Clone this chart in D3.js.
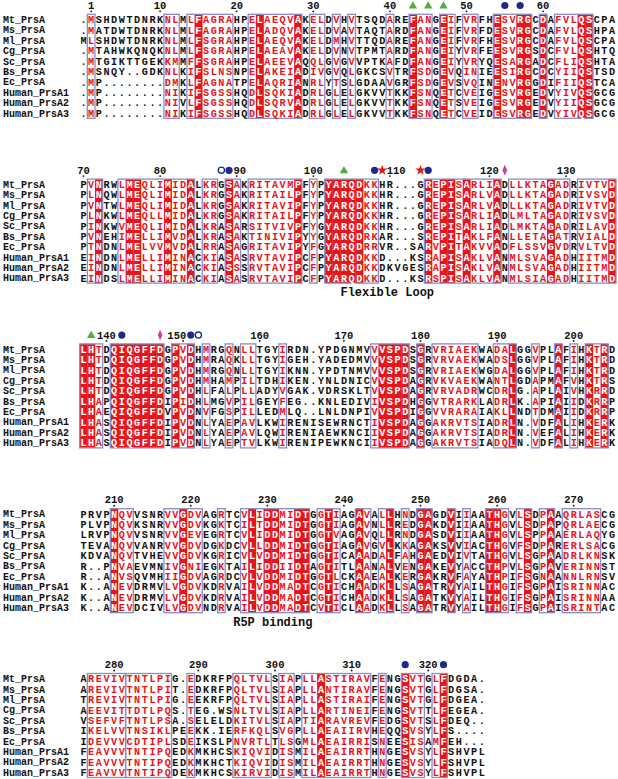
<!DOCTYPE html>
<html><head><meta charset="utf-8">
<script src="https://cdn.jsdelivr.net/npm/d3@7"></script>
<style>body{margin:0;background:#fff}svg{display:block}</style>
</head><body><svg id="chart" width="618" height="779"></svg>
<script>
// ---------------- data ----------------
const names = ["Mt_PrsA","Ms_PrsA","Ml_PrsA","Cg_PrsA","Sc_PrsA","Bs_PrsA","Ec_PrsA","Human_PrsA1","Human_PrsA2","Human_PrsA3"];

const sequences = [
  ".MSHDWTDNRKNLMLFAGRAHPELAEQVAKELDVHVTSQDAREFANGEIFVRFHESVRGCDAFVLQSCPA"+"PVNRWLMEQLIMIDALKRGSAKRITAVMPFYPYARQDKKHR...GREPISARLIADLLKTAGADRIVTVD"+"LHTDQIQGFFDGPVDHMRGQNLLTGYIRDN.YPDGNMVVVSPDSGRVRIAEKWADALGGVPLAFIHKTRD"+"PRVPNQVVSNRVVGDVAGRTCVLIDDMIDTGGTIAGAVALLHNDGAGDVIIAATHGVLSDPAAQRLASCG"+"AREVIVTNTLPIG.EDKRFPQLTVLSIAPLLASTIRAVFENGSVTGLFDGDA.",
  ".MATDWTDNRKNLMLFAGRAHPELADQVAKELDVAVTAQTARDFANGEIFVRFDESVRGCDAFVLQSHPA"+"PLNQWLMEQLIMIDALKRGSAKRITAILPFYPYARQDKKHR...GREPISARLVADLLKTAGADRIVSVD"+"LHTDQIQGFFDGPVDHMRAQKLLTGYIGEH.YADEDMVVVSPDSGRVRVAEKWADSLGGVPLAFIHKTRD"+"PLVPNQVKSNRVVGDVKGKTCILTDDMIDTGGTIAGAVNLLREDGAKDVIIAATHGVLSDPAPQRLAECG"+"AREVIVTNTLPIT.EDKRFPQLTVLSIAPLLANTIRAVFENGSVTGLFDGSA.",
  "MLSHDWTDNRKNLMLFSGRAHPELAEQVAKELDMHVTTQDAREFANGEIFVRFHESVRGCDAFVLQSCPA"+"PVNTWLMEQLIMIDALKRGSAKRITAVIPFYPYARQDKKHR...GREPISARLVADLLKTAGADRIVTVD"+"LHTDQIQGFFDGPVDHMRGQNLLTGYIKNN.YPDTNMVVVSPDSGRVRIAEKWGDALGGVPLAFIHKTRD"+"LRVPNQVVSNRVVGEVEGRTCVLIDDMIDTGGTVAGAVQLLRNDGASDVIIAATHGVLSPPAAERLAQYG"+"TREVIVTNTLPIG.EEKRFPQLTVLSIAPLLASTIRAIFENGSVTGLFDGEA.",
  ".MTAHWKQNQKNLMLFSGRAHPELAEAVAKELDVNVTPMTARDFANGEIYVRFEESVRGSDCFVLQSHTQ"+"PLNKWLMEQLLMIDALKRGSAKRITAILPFYPYARQDKKHR...GREPISARLIADLMLTAGADRIVSVD"+"LHTDQIQGFFDGPVDHMHAMPILTDHIKEN.YNLDNICVVSPDAGRVKVAEKWANTLGDAPMAFVHKTRS"+"TEVANQVVANRVVGDVDGKDCVLLDDMIDTGGTIAGAVGVLKKAGAKSVVIACTHGVFSDPARERLSACG"+"AEEVITTDTLPQS.TEG.WSNLTVLSIAPLLARTINEIFENGSVTTLFEGEA.",
  ".MTGIKTTGEKKMMFFSGRAHPELAEEVAQQLGVGVVPTKAFDFANGEIYVRYQESARGADCFLIQSHTA"+"PINKWVMEQLIMIDALKRASARSITVIVPFYGYARQDKKHR...GREPISARLIADLMKTAGADRILAVD"+"LHTDQIQGFFDGPVDHLFALPLLADYVGAK.VDRSKLTVVSPDAGRVRVADRWCDRLG.APLAIVHKRRD"+"KDVANQVTVHEVVGDVKGRICVLVDDMIDTGGTICAAADALFAHGAEDVIVTATHGVLSGPAADRLKNSK"+"VSEFVFTNTLPSA.SELELDKITVLSIAPTIARAVREVFEDGSVTSLFDEQ..",
  ".MSNQY..GDKNLKIFSLNSNPELAKEIADIVGVQLGKCSVTRFSDGEVQINIEESIRGCDCYIIQSTSD"+"PVNEHIMELLIMVDALKRASAKTINIVIPYYGYARQDRKAR...SREPITAKLFANLLETAGATRVIALD"+"LHAPQIQGFFDIPIDHLMGVPILGEYFEG..KNLEDIVIVSPDHGGVTRARKLADRLK.APIAIIDKRRP"+"R..PNVAEVMNIVGNIEGKTAILIDDIIDTAGTITLAANALVENGAKEVYACCTHPVLSGPAVERINNST"+"IKELVVTNSIKLPEEKK.IERFKQLSVGPLLAEAIIRVHEQQSVSYLFS....",
  ".MP........DMKLFAGNATPELAQRIANRLYTSLGDAAVGRFSDGEVSVQINENVRGGDIFIIQSTCA"+"PTNDNLMELVVMVDALRRASAGRITAVIPYFGYARQDRRVR..SARVPITAKVVADFLSSVGVDRVLTVD"+"LHAEQIQGFFDVPVDNVFGSPILLEDMLQ..LNLDNPIVVSPDIGGVVRARAIAKLLNDTDMAIIDKRRP"+"R..ANVSQVMHIIGDVAGRDCVLVDDMIDTGGTLCKAAEALKERGAKRVFAYATHPIFSGNAANNLRNSV"+"IDEVVVCDTIPLSDEIKSLPNVRTLTLSGMLAEAIRRISNEESISAMFEH...",
  ".MP........NIKIFSGSSHQDLSQKIADRLGLELGKVVTKKFSNQETCVEIGESVRGEDVYIVQSGCG"+"EINDNLMELLIMINACKIASASRVTAVIPCFPYARQDKKD...KSRAPISAKLVANMLSVAGADHIITMD"+"LHASQIQGFFDIPVDNLYAEPAVLKWIRENISEWRNCTIVSPDAGGAKRVTSIADRLN.VDFALIHKERK"+"K..ANEVDRMVLVGDVKDRVAILVDDMADTCGTICHAADKLLSAGATRVYAILTHGIFSGPAISRINNAC"+"FEAVVVTNTIPQEDKMKHCSKIQVIDISMILAEAIRRTHNGESVSYLFSHVPL",
  ".MP........NIVLFSGSSHQDLSQRVADRLGLELGKVVTKKFSNQETSVEIGESVRGEDVYIIQSGCG"+"EINDNLMELLIMINACKIASSSRVTAVIPCFPYARQDKKDKVGESRAPISAKLVANMLSVAGADHIITMD"+"LHASQIQGFFDIPVDNLYAEPAVLQWIRENIAEWKNCIIVSPDAGGAKRVTSIADRLN.VEFALIHKERK"+"K..ANEVDRMVLVGDVKDRVAILVDDMADTCGTICHAADKLLSAGATKVYAILTHGIFSGPAISRINNAA"+"FEAVVVTNTIPQEDKMKHCTKIQVIDISMILAEAIRRTHNGESVSYLFSHVPL",
  ".MP........NIKIFSGSSHQDLSQKIADRLGLELGKVVTKKFSNQETCVEIDESVRGEDVYIVQSGCG"+"EINDSLMELLIMINACKIASASRVTAVIPCFPYARQDKKD...KSRSPISAKLVANMLSIAGADHIITMD"+"LHASQIQGFFDIPVDNLYAEPTVLKWIRENIPEWKNCIIVSPDAGGAKRVTSIADQLN.VDFALIHKERK"+"K..ANEVDCIVLVGDVNDRVAILVDDMADTCVTICLAADKLLSAGATRVYAILTHGIFSGPAISRINTAC"+"FEAVVVTNTIPQDEKMKHCSKIRVIDISMILAEAIRRTHNGESVSYLFSHVPL"
];

// similarity frames (alignment column ranges, inclusive)
const simBoxes = [
  [1,1],[11,12],[14,19],[22,28],[30,31],[33,33],[35,35],[40,40],[43,45],[47,48],[50,51],[54,58],[60,60],[62,66],
  [71,72],[75,84],[86,87],[89,90],[92,98],[100,100],[102,108],[115,124],[126,133],[135,139],
  [140,142],[144,150],[152,154],[156,156],[159,159],[161,162],[166,166],[178,182],[184,184],[186,191],[194,196],[199,199],[202,202],[204,204],[206,208],
  [214,216],[221,225],[228,228],[231,239],[241,243],[246,247],[249,250],[252,252],[254,255],[258,258],[260,260],[263,265],[267,268],[270,271],[273,277],
  [281,285],[286,291],[294,294],[300,304],[306,307],[309,317],[319,319],[322,324],[326,327]
];

// residue markers (Mt_PrsA numbering)
const markerResidues = [43,45,47,55,57,88,89,104,108,109,111,112,122,138,142,147,151,152,317,322];
const markerTypes    = ["tri","tri","tri","dot","dot","ring","dot","tri","dot","star","star","dot","diamond","tri","dot","diamond","dot","ring","dot","dot"];

// region labels (anchored at Mt_PrsA residue)
const regionLabels = ["Flexible Loop","R5P binding"];
const regionResidues = [104, 226];

// ---------------- layout ----------------
const COLS = 70;
const x0 = 83.5, pitch = 7.66, rowH = 10.4, top0 = 19.5, blockStep = 164.8;
const RED = "#e4161c", FRAME = "#8b8bc6", BLUE = "#1c2a8a", GREEN = "#4caf3e", MAG = "#c8439c";
const seqFont = "bold 10.2px 'Liberation Mono', monospace";

const svg = d3.select("#chart");
const nCols = sequences[0].length;
const nBlocks = Math.ceil(nCols / COLS);

// numbering from reference sequence
const resNum = []; let rr = 0;
for (let c = 0; c < nCols; c++) { if (sequences[0][c] !== ".") { rr++; resNum[c] = rr; } else resNum[c] = null; }
const colOfRes = r => resNum.indexOf(r);

const isId = c => { const ch = sequences[0][c]; return ch !== "." && sequences.every(s => s[c] === ch); };
const inBox = new Array(nCols).fill(false);
simBoxes.forEach(([a,b]) => { for (let c = a; c <= b; c++) inBox[c] = true; });

const markers = markerResidues.map((r,i) => ({col: colOfRes(r), type: markerTypes[i]}));

for (let b = 0; b < nBlocks; b++) {
  const c0 = b * COLS, c1 = Math.min(nCols, c0 + COLS);
  const midY = top0 + b * blockStep;          // centre of first row
  const top = midY - rowH / 2;
  const x = d3.scaleLinear().domain([c0, c0 + COLS - 1]).range([x0, x0 + (COLS - 1) * pitch]);
  const y = d3.scaleBand().domain(names).range([top, top + names.length * rowH]);
  const bottom = top + names.length * rowH;
  const g = svg.append("g");
  const cols = d3.range(c0, c1);

  // identity columns (red background)
  g.selectAll("rect.id").data(cols.filter(isId)).join("rect")
    .attr("x", c => x(c) - pitch / 2).attr("y", top)
    .attr("width", pitch + 0.3).attr("height", bottom - top)
    .attr("fill", RED);

  // frames
  g.selectAll("rect.frame").data(simBoxes.filter(([a,e]) => a >= c0 && a < c1)).join("rect")
    .attr("x", d => x(d[0]) - pitch / 2).attr("y", top)
    .attr("width", d => (d[1] - d[0] + 1) * pitch).attr("height", bottom - top)
    .attr("fill", "none").attr("stroke", FRAME).attr("stroke-width", 1.3);

  // residues: one text element per block, one tspan per residue
  const cells = [];
  names.forEach((n, i) => cols.forEach(c => cells.push({i, n, c, ch: sequences[i][c]})));
  g.append("text").attr("text-anchor", "middle").style("font", seqFont)
    .selectAll("tspan").data(cells).join("tspan")
    .attr("x", d => x(d.c)).attr("y", d => y(d.n) + rowH / 2 + 3.6)
    .attr("fill", d => isId(d.c) ? "#fff" : (inBox[d.c] && d.ch !== "." ? RED : "#111"))
    .text(d => d.ch);

  // names: one text per block
  g.append("text").style("font", "bold 10px 'Liberation Mono', monospace").attr("fill", "#111")
    .selectAll("tspan").data(names).join("tspan")
    .attr("x", 3).attr("y", n => y(n) + rowH / 2 + 3.5)
    .text(n => n);

  // markers
  const my = midY - 14;
  const bm = markers.filter(m => m.col >= c0 && m.col < c1);
  const mg = g.append("g");
  bm.forEach(m => {
    const cx = x(m.col);
    if (m.type === "tri") mg.append("path").attr("d", d3.symbol(d3.symbolTriangle, 30)()).attr("transform", `translate(${cx},${my+0.5})`).attr("fill", GREEN);
    else if (m.type === "dot") mg.append("circle").attr("cx", cx).attr("cy", my).attr("r", 3.6).attr("fill", BLUE);
    else if (m.type === "ring") mg.append("circle").attr("cx", cx).attr("cy", my).attr("r", 3.1).attr("fill", "#fff").attr("stroke", BLUE).attr("stroke-width", 1.3);
    else if (m.type === "star") mg.append("path").attr("d", d3.symbol(d3.symbolStar, 34)()).attr("transform", `translate(${cx},${my})`).attr("fill", RED);
    else if (m.type === "diamond") mg.append("path").attr("d", d3.symbol(d3.symbolDiamond, 26)()).attr("transform", `translate(${cx},${my}) scale(0.85,1.15)`).attr("fill", MAG);
  });

  // numbering
  const numCols = cols.filter(c => resNum[c] !== null && (resNum[c] % 10 === 0 || resNum[c] === 1));
  const digitW = 6.3;
  numCols.forEach(c => {
    const label = String(resNum[c]);
    const w = label.length * digitW;
    let left = x(c) - w / 2;
    bm.forEach(m => {
      const mx = x(m.col);
      if (mx + 4 > left && mx - 4 < left + w) {
        if (mx > x(c)) left = mx - 4.5 - w; else left = mx + 4.5;
      }
    });
    g.append("text").attr("x", left).attr("y", my + 3.4)
      .style("font", "bold 10.5px 'Liberation Mono', monospace").attr("fill", "#111")
      .text(label);
    g.append("circle").attr("cx", x(c)).attr("cy", midY - 8.2).attr("r", 0.9).attr("fill", "#111");
  });

  // region labels
  regionLabels.forEach((t, i) => {
    const c = colOfRes(regionResidues[i]);
    if (c >= c0 && c < c1) {
      g.append("text").attr("x", x(c) - 3.5).attr("y", bottom + 13)
        .style("font", "bold 12px 'Liberation Mono', monospace").attr("fill", "#111")
        .text(t);
    }
  });
}
</script></body></html>
